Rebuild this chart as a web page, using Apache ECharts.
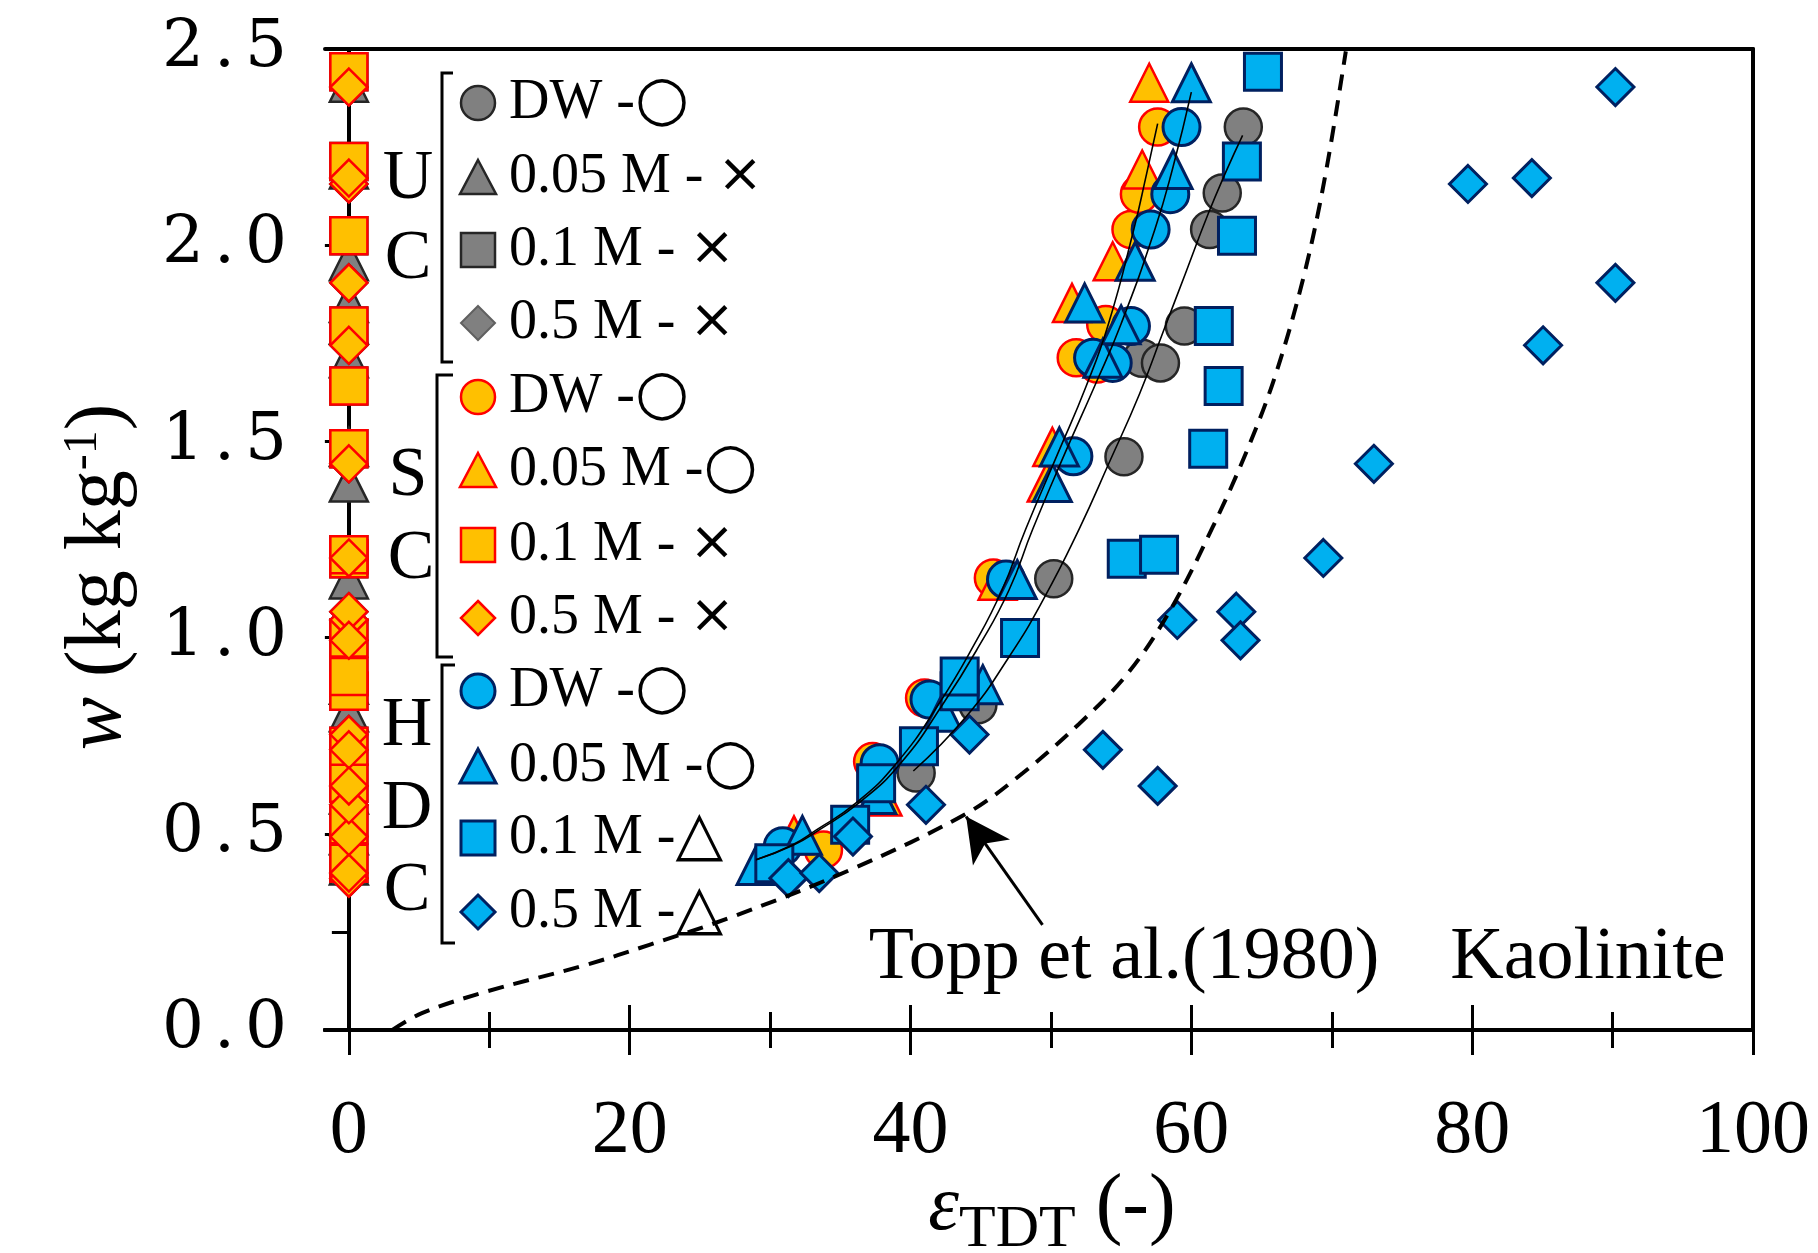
<!DOCTYPE html>
<html>
<head>
<meta charset="utf-8">
<script src="https://cdn.jsdelivr.net/npm/echarts@6/dist/echarts.min.js"></script>
<style>
  html, body { margin: 0; padding: 0; background: #fff; }
  #chart { width: 1818px; height: 1253px; }
</style>
</head>
<body>
<div id="chart"></div>
<script>
// axis ticks
var xLabels = [0, 20, 40, 60, 80, 100];
var xMinorTicks = [10, 30, 50, 70, 90];

// UC (gray)  [eps, w]
var ucDW = [[40.4,0.655],[44.8,0.829],[50.2,1.150],[55.2,1.461],[56.5,1.712],[57.8,1.700],[59.5,1.794],[61.3,2.040],[62.2,2.133],[63.7,2.301]];
// SC (orange)
var scDW = [[33.8,0.459],[37.3,0.684],[41.0,0.846],[45.9,1.152],[51.8,1.713],[53.3,1.697],[53.9,1.798],[55.7,2.040],[56.3,2.130],[57.6,2.301]];
var scM005 = [[31.7,0.496],[38.0,0.595],[46.2,1.145],[49.7,1.395],[50.1,1.486],[51.5,1.853],[54.4,1.959],[56.5,2.193],[57.0,2.414]];
// HDC (blue)
var hdcDW = [[30.9,0.468],[37.8,0.680],[41.35,0.842],[46.8,1.148],[51.6,1.462],[53.0,1.713],[54.4,1.700],[55.7,1.794],[57.1,2.040],[58.5,2.130],[59.3,2.301]];
var hdcM005 = [[29.0,0.419],[32.3,0.496],[37.6,0.600],[42.3,0.810],[45.15,0.880],[47.6,1.148],[50.1,1.395],[50.6,1.486],[53.7,1.712],[55.0,1.797],[52.4,1.853],[56.0,1.959],[58.7,2.193],[60.0,2.414]];
var hdcM01 = [[30.3,0.425],[35.7,0.523],[37.55,0.629],[40.6,0.723],[43.5,0.863],[43.5,0.901],[47.8,0.999],[55.4,1.201],[57.7,1.211],[61.2,1.481],[62.3,1.641],[61.6,1.794],[63.25,2.024],[63.6,2.213],[65.1,2.442]];
var hdcM05 = [[31.3,0.387],[33.5,0.400],[35.9,0.493],[41.1,0.574],[44.2,0.753],[53.7,0.714],[57.6,0.622],[59.0,1.045],[63.2,1.066],[63.5,0.993],[69.4,1.203],[73.0,1.443],[85.05,1.745],[90.2,1.904],[79.7,2.156],[84.25,2.171],[90.2,2.403]];

// samples without a TDT reading (×), plotted at eps = 0
var zeroW005 = [0.419,0.496,0.600,0.810,0.880,1.148,1.395,1.486,1.712,1.797,1.853,1.959,2.193,2.414];
var zeroW01 = [0.425,0.523,0.629,0.723,0.863,0.901,0.999,1.201,1.211,1.481,1.641,1.794,2.024,2.213,2.442];
var zeroW05 = [0.387,0.400,0.493,0.574,0.753,0.714,0.622,1.045,1.066,0.993,1.203,1.443,1.745,1.904,2.156,2.171,2.403];

// fitted curves
var fitUC = [[40.2,0.66],[44.0,0.80],[47.0,0.95],[49.5,1.10],[52.0,1.276],[54.2,1.45],[56.3,1.62],[58.0,1.78],[59.6,1.93],[61.2,2.08],[62.5,2.19],[63.65,2.28]];
var fitSC = [[29.0,0.434],[31.5,0.47],[33.3,0.51],[36.1,0.578],[39.0,0.68],[42.0,0.83],[44.5,0.98],[46.5,1.12],[48.2,1.276],[50.5,1.47],[52.5,1.64],[54.1,1.80],[55.9,2.04],[56.8,2.18],[57.6,2.31]];
var fitHDC = [[29.0,0.434],[31.6,0.47],[33.5,0.51],[36.3,0.578],[39.3,0.68],[42.3,0.83],[44.9,0.98],[47.0,1.12],[48.7,1.276],[51.0,1.47],[53.1,1.64],[55.0,1.80],[57.4,2.04],[58.7,2.20],[60.0,2.39]];

// Topp et al. (1980) curve and its pointer
var topp = [[3.1,0.0],[5.2,0.043],[9.8,0.098],[16.9,0.166],[21.4,0.217],[27.35,0.289],[35.7,0.408],[44.0,0.552],[48.0,0.655],[52.0,0.780],[55.5,0.910],[58.5,1.070],[61.5,1.280],[64.0,1.480],[66.0,1.670],[68.0,1.920],[69.5,2.170],[71.0,2.494]];
var toppArrow = [[49.4,0.268],[43.96,0.544]];

var GRAY = { fill: '#808080', stroke: '#262626', bw: 2.5 };
var ORANGE = { fill: '#FFC000', stroke: '#FF0000', bw: 2.5 };
var BLUE = { fill: '#00B0F0', stroke: '#002060', bw: 3 };
var FONT = 'Liberation Serif';

function atZero(ws) {
  return ws.map(function (w) { return [0, w]; });
}

function pts(name, data, symbol, c, size) {
  return {
    name: name, type: 'scatter', data: data, symbol: symbol, symbolSize: size || 37,
    itemStyle: { color: c.fill, borderColor: c.stroke, borderWidth: c.bw, opacity: 1 },
    emphasis: { disabled: true }, silent: true, z: 2
  };
}

function fit(name, data) {
  return {
    name: name, type: 'line', data: data, smooth: true, symbol: 'none',
    lineStyle: { color: '#000', width: 1.6 }, emphasis: { disabled: true }, silent: true, z: 3
  };
}

var series = [
  pts('UC DW', ucDW, 'circle', GRAY),
  pts('UC 0.05 M', atZero(zeroW005), 'triangle', GRAY, 38),
  pts('UC 0.1 M', atZero(zeroW01), 'rect', GRAY),
  pts('UC 0.5 M', atZero(zeroW05), 'diamond', GRAY),
  pts('SC DW', scDW, 'circle', ORANGE),
  pts('SC 0.05 M', scM005, 'triangle', ORANGE, 38),
  pts('SC 0.1 M', atZero(zeroW01), 'rect', ORANGE),
  pts('SC 0.5 M', atZero(zeroW05), 'diamond', ORANGE),
  pts('HDC DW', hdcDW, 'circle', BLUE),
  pts('HDC 0.05 M', hdcM005, 'triangle', BLUE, 38),
  pts('HDC 0.1 M', hdcM01, 'rect', BLUE),
  pts('HDC 0.5 M', hdcM05, 'diamond', BLUE),
  fit('fit UC', fitUC),
  fit('fit SC', fitSC),
  fit('fit HDC', fitHDC),
  {
    name: 'Topp', type: 'line', data: topp, smooth: 0.35, symbol: 'none', z: 3,
    lineStyle: { color: '#000', width: 4, type: [16, 10] },
    emphasis: { disabled: true }, silent: true,
    markLine: {
      silent: true, symbol: ['none', 'arrow'], symbolSize: [34, 44],
      label: { show: false }, emphasis: { disabled: true },
      lineStyle: { color: '#000', width: 3, type: 'solid' },
      data: [[{ coord: toppArrow[0] }, { coord: toppArrow[1] }]]
    }
  }
];

// crossing ticks: one axis draws the outer half, a twin the inner half
function xAx(ticks, len, inside, extra) {
  var a = {
    type: 'value', min: -1.7, max: 100, position: 'bottom',
    axisLine: { show: true, onZero: false, lineStyle: { color: '#000', width: 4 } },
    axisTick: { show: true, customValues: ticks, length: len, inside: inside, lineStyle: { color: '#000', width: 3 } },
    axisLabel: { show: false },
    splitLine: { show: false }
  };
  return Object.assign(a, extra || {});
}
function yAx(inside, extra) {
  var a = {
    type: 'value', min: 0, max: 2.5, interval: 0.5,
    axisLine: { show: true, onZero: true, onZeroAxisIndex: 0, lineStyle: { color: '#000', width: 4 } },
    axisTick: { show: true, length: 24, inside: inside, lineStyle: { color: '#000', width: 3 } },
    minorTick: { show: true, splitNumber: 2, length: 17, lineStyle: { color: '#000', width: 3 } },
    axisLabel: { show: false },
    splitLine: { show: false }, minorSplitLine: { show: false }
  };
  return Object.assign(a, extra || {});
}

var xAxes = [
  xAx(xLabels, 25, false, {
    axisLabel: { show: true, customValues: xLabels, margin: 64, fontSize: 76, fontFamily: FONT, color: '#000' }
  }),
  xAx(xLabels, 25, true),
  xAx(xMinorTicks, 18, false),
  xAx(xMinorTicks, 18, true),
  {
    type: 'value', min: -1.7, max: 100, position: 'top',
    axisLine: { show: true, onZero: false, lineStyle: { color: '#000', width: 4 } },
    axisTick: { show: false }, axisLabel: { show: false }, splitLine: { show: false }
  }
];

var yAxes = [
  yAx(false, {
    axisLabel: {
      show: true, margin: 38, fontSize: 66, fontFamily: 'DejaVu Serif', color: '#000',
      formatter: function (v) { return v.toFixed(1).replace('.', '{p|.}'); },
      rich: { p: { fontSize: 66, fontFamily: 'DejaVu Serif', color: '#000', padding: [0, 10, 0, 10] } }
    }
  }),
  yAx(true),
  {
    type: 'value', min: 0, max: 2.5, position: 'right',
    axisLine: { show: true, onZero: false, lineStyle: { color: '#000', width: 4 } },
    axisTick: { show: false }, axisLabel: { show: false }, splitLine: { show: false }
  }
];

// legend block: three bracketed groups
var legendRows = [
  ['circle', GRAY, '{t|DW -}{s|○}', 103],
  ['triangle', GRAY, '{t|0.05 M - }{x|×}', 177],
  ['rect', GRAY, '{t|0.1 M - }{x|×}', 250],
  ['diamond', { fill: '#808080', stroke: '#606060', bw: 2 }, '{t|0.5 M - }{x|×}', 323],
  ['circle', ORANGE, '{t|DW -}{s|○}', 397],
  ['triangle', ORANGE, '{t|0.05 M -}{s|○}', 470],
  ['rect', ORANGE, '{t|0.1 M - }{x|×}', 545],
  ['diamond', ORANGE, '{t|0.5 M - }{x|×}', 618],
  ['circle', BLUE, '{t|DW -}{s|○}', 691],
  ['triangle', BLUE, '{t|0.05 M -}{s|○}', 766],
  ['rect', BLUE, '{t|0.1 M -}{s|△}', 838],
  ['diamond', BLUE, '{t|0.5 M -}{s|△}', 912]
];

function legendMark(kind, cx, cy, c) {
  var s = 17;
  var st = { fill: c.fill, stroke: c.stroke, lineWidth: c.bw };
  if (kind === 'circle') return { type: 'circle', shape: { cx: cx, cy: cy, r: s }, style: st };
  if (kind === 'triangle') return { type: 'polygon', shape: { points: [[cx, cy - s], [cx + s + 1, cy + s], [cx - s - 1, cy + s]] }, style: st };
  if (kind === 'rect') return { type: 'rect', shape: { x: cx - s, y: cy - s, width: 2 * s, height: 2 * s }, style: st };
  return { type: 'polygon', shape: { points: [[cx, cy - s], [cx + s, cy], [cx, cy + s], [cx - s, cy]] }, style: st };
}

var graphics = [];
legendRows.forEach(function (r) {
  graphics.push(legendMark(r[0], 478, r[3], r[1]));
  graphics.push({
    type: 'text', x: 509, y: r[3],
    style: {
      text: r[2], align: 'left', verticalAlign: 'middle',
      rich: {
        t: { fontSize: 56, fontFamily: FONT, fill: '#000' },
        s: { fontSize: 62, fontFamily: 'DejaVu Sans', fontWeight: 'bold', fill: '#000' },
        x: { fontSize: 54, fontFamily: 'DejaVu Sans', fill: '#000' }
      }
    }
  });
});

[[453, 73, 442, 362], [453, 375, 437, 657], [455, 665, 442, 943]].forEach(function (b) {
  graphics.push({
    type: 'polyline',
    shape: { points: [[b[0], b[1]], [b[2], b[1]], [b[2], b[3]], [b[0], b[3]]] },
    style: { stroke: '#000', lineWidth: 3, fill: null }
  });
});

[['U', 408, 180], ['C', 408, 260], ['S', 408, 477], ['C', 411, 560], ['H', 407, 727], ['D', 407, 810], ['C', 407, 892]].forEach(function (g) {
  graphics.push({
    type: 'text', x: g[1], y: g[2],
    style: { text: g[0], fontSize: 70, fontFamily: FONT, fill: '#000', align: 'center', verticalAlign: 'middle' }
  });
});

graphics.push({
  type: 'text', x: 1124, y: 959,
  style: { text: 'Topp et al.(1980)', fontSize: 74, fontFamily: FONT, fill: '#000', align: 'center', verticalAlign: 'middle' }
});
graphics.push({
  type: 'text', x: 1588, y: 959,
  style: { text: 'Kaolinite', fontSize: 74, fontFamily: FONT, fill: '#000', align: 'center', verticalAlign: 'middle' }
});

// axis titles
graphics.push({
  type: 'text', x: 1052, y: 1208,
  style: {
    text: '{e|ε}{s|TDT}{n| (-)}', align: 'center', verticalAlign: 'middle',
    rich: {
      e: { fontSize: 78, fontFamily: FONT, fontStyle: 'italic', fill: '#000', lineHeight: 80 },
      s: { fontSize: 60, fontFamily: FONT, fill: '#000', lineHeight: 60, padding: [44, 0, 0, 0] },
      n: { fontSize: 80, fontFamily: FONT, fill: '#000', lineHeight: 80 }
    }
  }
});
graphics.push({
  type: 'text', x: 99, y: 577, rotation: Math.PI / 2,
  style: {
    text: '{i|w}{n| (kg kg}{u|-1}{n|)}', align: 'center', verticalAlign: 'middle',
    rich: {
      i: { fontSize: 80, fontFamily: FONT, fontStyle: 'italic', fill: '#000', lineHeight: 80 },
      n: { fontSize: 80, fontFamily: FONT, fill: '#000', lineHeight: 80 },
      u: { fontSize: 48, fontFamily: FONT, fill: '#000', lineHeight: 48, verticalAlign: 'top' }
    }
  }
});

var chart = echarts.init(document.getElementById('chart'));
chart.setOption({
  animation: false,
  backgroundColor: '#fff',
  grid: { left: 325, top: 49, width: 1428, height: 981, containLabel: false, outerBoundsMode: 'none' },
  xAxis: xAxes,
  yAxis: yAxes,
  series: series,
  graphic: graphics
});
</script>
</body>
</html>
